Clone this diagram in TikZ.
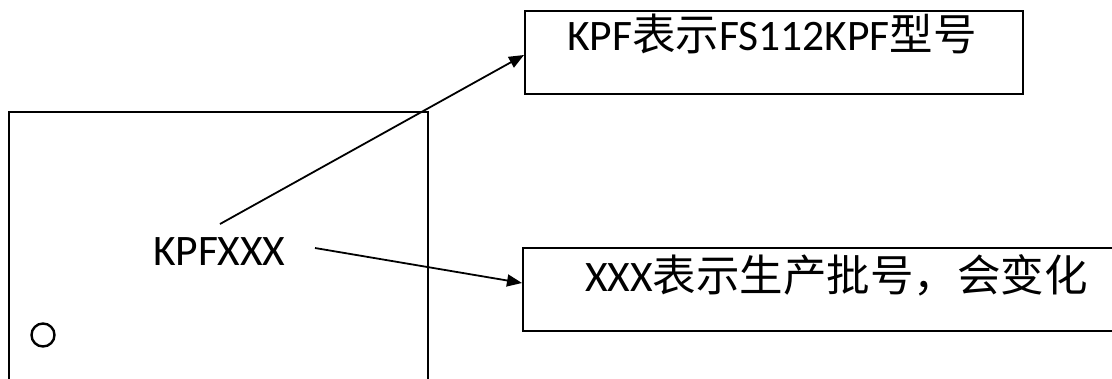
\documentclass[tikz,border=0pt]{standalone}
\usepackage{fontspec}
\setmainfont{Carlito}
\newfontfamily\cjk{Noto Sans CJK SC}
\usetikzlibrary{arrows.meta}
\begin{document}
\begin{tikzpicture}[x=1pt,y=-1pt,
  box/.style={draw,line width=1.8pt},
  lbl/.style={inner sep=0pt,anchor=base west,font=\fontsize{43.5}{47}\selectfont},
  conn/.style={line width=1.8pt,-{Triangle[length=15pt,width=12pt]}}]
\useasboundingbox (0,0) rectangle (1112,378);
\clip (0,0) rectangle (1112,378);
\fill[white] (0,0) rectangle (1112,378);
% chip body
\draw[box,line width=2.2pt] (9,112) rectangle (428,400);
\node[lbl] (mark) at (153,265) {KPFXXX};
\draw[line width=2.4pt] (43,335) circle (11.5);
% boxes
\node[box,minimum width=498pt,minimum height=83pt,anchor=north west] (top) at (524,10) {};
\node[lbl] (toptext) at (567,50) {KPF{\cjk 表示}FS112KPF{\cjk 型号}};
\node[box,minimum width=620pt,minimum height=83pt,anchor=north west] (bot) at (522,247) {};
\node[lbl] (bottext) at (585,291) {XXX{\cjk 表示生产批号，会变化}};
% connectors
\coordinate (s1) at (220,224);
\coordinate (s2) at (315,248);
\draw[conn] (s1) -- (top.west |- 0,55);
\draw[conn] (s2) -- (bot.west |- 0,283);
\end{tikzpicture}
\end{document}
